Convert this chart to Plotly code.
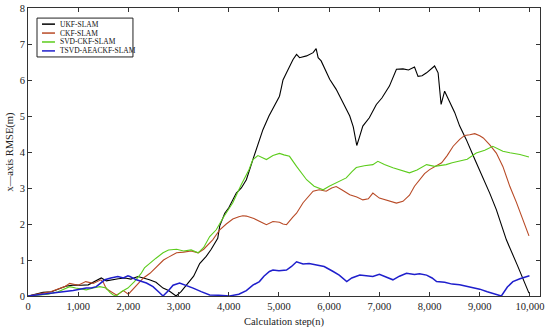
import plotly.graph_objects as go

names = ["UKF-SLAM", "CKF-SLAM", "SVD-CKF-SLAM", "TSVD-AEACKF-SLAM"]
colors = ["#000000", "#b84a26", "#5ccc1c", "#1f1fcc"]
widths = [1.1, 1.1, 1.1, 1.5]

ukf_x = [0,150,300,470,600,750,930,1050,1200,1300,1460,1560,1660,1800,1930,2050,2190,2300,2420,2550,2690,2800,2920,2950,3050,3160,3300,3420,3550,3650,3720,3780,3820,3920,4000,4150,4250,4350,4480,4580,4680,4800,4900,5010,5050,5080,5150,5280,5350,5410,5550,5680,5740,5780,5840,5920,6010,6140,6280,6410,6480,6550,6600,6670,6800,6940,7050,7200,7340,7470,7580,7700,7770,7850,7940,8020,8100,8170,8230,8300,8400,8500,8600,8730,8900,9070,9200,9330,9530,9750,9980]
ukf_y = [0,0.05,0.1,0.12,0.2,0.27,0.31,0.3,0.31,0.38,0.5,0.42,0.45,0.48,0.5,0.47,0.54,0.5,0.45,0.38,0.22,0.15,0.02,0.0,0.12,0.3,0.55,0.9,1.1,1.3,1.47,1.6,1.95,2.3,2.45,2.86,3.0,3.23,3.79,4.2,4.62,5.0,5.25,5.55,5.8,6.0,6.2,6.57,6.71,6.62,6.67,6.76,6.87,6.62,6.53,6.3,6.02,5.74,5.35,5.0,4.7,4.18,4.4,4.72,4.95,5.32,5.5,5.83,6.3,6.31,6.28,6.36,6.1,6.12,6.2,6.3,6.39,6.2,5.32,5.69,5.37,5.1,4.72,4.35,3.8,3.28,2.85,2.4,1.56,0.85,0.08]

ckf_x = [0,150,300,450,600,730,830,1000,1150,1300,1450,1500,1560,1650,1760,1830,1900,2000,2100,2200,2300,2430,2600,2700,2800,2960,3100,3250,3390,3500,3680,3820,3950,4080,4200,4280,4350,4500,4680,4750,4880,5010,5080,5150,5280,5350,5480,5580,5680,5800,5940,6050,6140,6250,6410,6550,6670,6780,6870,7000,7150,7340,7470,7600,7700,7800,7900,8000,8120,8240,8350,8470,8600,8700,8800,8900,9000,9070,9200,9330,9460,9600,9730,9860,9980]
ckf_y = [0,0.03,0.08,0.12,0.2,0.26,0.35,0.3,0.4,0.35,0.45,0.38,0.2,0.12,0.03,0.08,0.15,0.05,0.2,0.35,0.5,0.63,0.85,1.0,1.08,1.2,1.22,1.25,1.2,1.3,1.56,1.84,2.0,2.14,2.2,2.23,2.22,2.15,2.03,1.98,2.07,2.05,2.0,1.98,2.2,2.3,2.59,2.75,2.91,2.95,2.91,3.0,3.04,2.95,2.81,2.75,2.67,2.7,2.86,2.72,2.65,2.58,2.63,2.8,3.05,3.23,3.4,3.51,3.6,3.7,3.9,4.16,4.35,4.46,4.48,4.51,4.45,4.39,4.2,3.97,3.6,3.04,2.6,2.12,1.67]

svd_x = [0,200,400,600,700,830,950,1050,1160,1300,1430,1560,1630,1700,1760,1860,1990,2120,2250,2320,2430,2550,2690,2800,2960,3100,3250,3390,3500,3620,3750,3900,4080,4250,4400,4480,4580,4650,4750,4880,5010,5100,5210,5350,5450,5550,5700,5880,6000,6140,6340,6450,6540,6700,6870,6970,7100,7270,7420,7600,7750,7940,8100,8330,8450,8600,8750,8930,9100,9260,9460,9600,9800,9980]
svd_y = [0,0.02,0.05,0.12,0.18,0.26,0.22,0.2,0.17,0.22,0.26,0.22,0.1,0.03,0.0,0.12,0.22,0.4,0.62,0.78,0.92,1.05,1.2,1.28,1.3,1.25,1.28,1.2,1.35,1.65,1.84,2.2,2.59,3.1,3.5,3.79,3.9,3.85,3.79,3.9,3.96,3.92,3.88,3.6,3.4,3.23,3.05,2.95,3.05,3.15,3.28,3.45,3.57,3.62,3.65,3.74,3.65,3.56,3.5,3.42,3.5,3.65,3.6,3.65,3.7,3.74,3.8,3.97,4.05,4.16,4.02,3.98,3.93,3.86]

tsvd_x = [0,200,490,700,900,1160,1260,1360,1530,1650,1790,1900,1990,2030,2160,2360,2490,2600,2690,2800,2890,3020,3150,3290,3450,3620,3800,4020,4200,4350,4480,4610,4700,4810,4880,5000,5150,5250,5350,5480,5600,5780,5900,6080,6200,6350,6450,6610,6750,6870,7000,7100,7270,7400,7540,7700,7800,7940,8050,8140,8300,8450,8600,8800,9000,9150,9260,9430,9550,9660,9800,9990]
tsvd_y = [0,0.03,0.08,0.1,0.15,0.22,0.22,0.26,0.45,0.5,0.54,0.5,0.56,0.54,0.45,0.36,0.26,0.12,0.0,0.15,0.3,0.36,0.3,0.22,0.12,0.03,0.02,0.0,0.05,0.15,0.3,0.4,0.55,0.68,0.72,0.7,0.72,0.82,0.95,0.89,0.9,0.86,0.82,0.68,0.58,0.4,0.5,0.58,0.55,0.54,0.6,0.55,0.45,0.55,0.63,0.6,0.62,0.58,0.5,0.4,0.38,0.33,0.31,0.25,0.19,0.12,0.08,0.0,0.25,0.4,0.48,0.56]

x_ticks = [0, 1000, 2000, 3000, 4000, 5000, 6000, 7000, 8000, 9000, 10000]
y_ticks = [0, 1, 2, 3, 4, 5, 6, 7, 8]

series = [(ukf_x, ukf_y), (ckf_x, ckf_y), (svd_x, svd_y), (tsvd_x, tsvd_y)]

FONT = "Liberation Serif"
fig = go.Figure()
for (xs, ys), n, c, w in zip(series, names, colors, widths):
    fig.add_trace(go.Scatter(x=xs, y=ys, mode="lines", name=n,
                             line=dict(color=c, width=w), showlegend=False))

# manual legend box (paper coordinates)
L, R, T, B = 0.0176, 0.205, 0.965, 0.830
fig.add_shape(type="rect", xref="paper", yref="paper", x0=L, x1=R, y0=B, y1=T,
              line=dict(color="#222222", width=1), fillcolor="white")
entry_y = [0.944, 0.913, 0.882, 0.851]
for n, c, ey in zip(names, colors, entry_y):
    fig.add_shape(type="line", xref="paper", yref="paper", x0=0.0273, x1=0.0527,
                  y0=ey, y1=ey, line=dict(color=c, width=1.5))
    fig.add_annotation(xref="paper", yref="paper", x=0.0586, y=ey, text=n,
                       showarrow=False, xanchor="left", yanchor="middle",
                       font=dict(family=FONT, size=7.5, color="#111111"))

axis_common = dict(showline=True, linecolor="#333333", linewidth=1, mirror="ticks",
                   ticks="inside", ticklen=4, tickcolor="#333333", showgrid=False,
                   zeroline=False, automargin=False,
                   tickfont=dict(family=FONT, size=10.5, color="#222222"))

fig.update_layout(
    width=550, height=335,
    margin=dict(l=28, r=10, t=8, b=39),
    paper_bgcolor="white", plot_bgcolor="white",
    xaxis=dict(range=[0, 10200], tickvals=x_ticks, tickformat=",",
               title=dict(text="Calculation step(n)", standoff=7,
                          font=dict(family=FONT, size=10.5, color="#222222")),
               **axis_common),
    yaxis=dict(range=[0, 8], tickvals=y_ticks,
               title=dict(text="x\u2014axis RMSE(m)", standoff=3,
                          font=dict(family=FONT, size=10.5, color="#222222")),
               **axis_common),
)
fig.write_html("out.html", config={"displayModeBar": False},
               post_script="document.body.style.margin='0';document.body.style.overflow='hidden';")
